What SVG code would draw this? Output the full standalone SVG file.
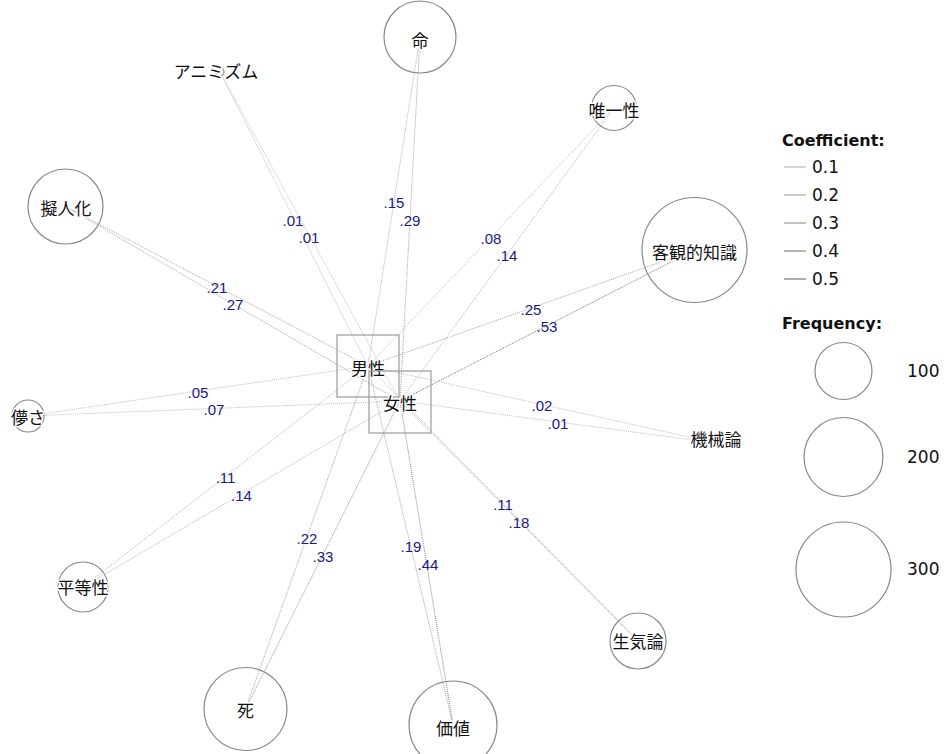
<svg xmlns="http://www.w3.org/2000/svg" width="948" height="754" viewBox="0 0 948 754">
  <style>
    .edge { fill: none; stroke-width: 1; stroke-dasharray: 1 1; }
    .c0 { stroke: #c0c0c0; }
    .c1 { stroke: #b4b4b4; }
    .c2 { stroke: #a4a4a4; }
    .c3 { stroke: #949494; }
    .c4 { stroke: #868686; }
    .c5 { stroke: #747474; }
    .node { fill: none; stroke: #888; stroke-width: 1.2; }
    .box { fill: none; stroke: #999; stroke-width: 1.2; }
    .lbl { font-family: "Noto Sans CJK JP", "Noto Sans", sans-serif; font-size: 17px; fill: #111; text-anchor: middle; dominant-baseline: central; stroke: #fff; stroke-width: 3px; paint-order: stroke; stroke-linejoin: round; }
    .coef { font-family: "Liberation Sans", Arial, sans-serif; font-size: 15px; fill: #1a1a86; text-anchor: middle; dominant-baseline: central; }
    .lgh { font-family: "DejaVu Sans", Verdana, sans-serif; font-size: 16px; font-weight: bold; fill: #111; }
    .lgt { font-family: "DejaVu Sans", Verdana, sans-serif; font-size: 17px; fill: #111; }
  </style>

  <!-- connectors: men (368,366) and women (400,401) to every concept -->
  <g id="edges">
    <line class="edge c0" x1="368" y1="366" x2="220" y2="72"/>
    <line class="edge c0" x1="400" y1="401" x2="220" y2="72"/>
    <line class="edge c1" x1="368" y1="366" x2="420" y2="37"/>
    <line class="edge c2" x1="400" y1="401" x2="420" y2="37"/>
    <line class="edge c0" x1="368" y1="366" x2="614" y2="108"/>
    <line class="edge c1" x1="400" y1="401" x2="614" y2="108"/>
    <line class="edge c2" x1="368" y1="366" x2="65.5" y2="206.5"/>
    <line class="edge c2" x1="400" y1="401" x2="65.5" y2="206.5"/>
    <line class="edge c2" x1="368" y1="366" x2="694.5" y2="250"/>
    <line class="edge c5" x1="400" y1="401" x2="694.5" y2="250"/>
    <line class="edge c0" x1="368" y1="366" x2="28" y2="416"/>
    <line class="edge c0" x1="400" y1="401" x2="28" y2="416"/>
    <line class="edge c0" x1="368" y1="366" x2="716" y2="443"/>
    <line class="edge c0" x1="400" y1="401" x2="716" y2="443"/>
    <line class="edge c1" x1="368" y1="366" x2="83" y2="587"/>
    <line class="edge c1" x1="400" y1="401" x2="83" y2="587"/>
    <line class="edge c1" x1="368" y1="366" x2="638" y2="641"/>
    <line class="edge c2" x1="400" y1="401" x2="638" y2="641"/>
    <line class="edge c2" x1="368" y1="366" x2="245.5" y2="709"/>
    <line class="edge c3" x1="400" y1="401" x2="245.5" y2="709"/>
    <line class="edge c2" x1="368" y1="366" x2="453" y2="725"/>
    <line class="edge c4" x1="400" y1="401" x2="453" y2="725"/>
  </g>

  <!-- coefficient labels at edge midpoints -->
  <g id="edge-labels">
    <text class="coef" x="293" y="220">.01</text>
    <text class="coef" x="309" y="237.5">.01</text>
    <text class="coef" x="394" y="202.5">.15</text>
    <text class="coef" x="410" y="220">.29</text>
    <text class="coef" x="491" y="238">.08</text>
    <text class="coef" x="507" y="255.5">.14</text>
    <text class="coef" x="217" y="287">.21</text>
    <text class="coef" x="233" y="304.5">.27</text>
    <text class="coef" x="531" y="309">.25</text>
    <text class="coef" x="547" y="326.5">.53</text>
    <text class="coef" x="198" y="392">.05</text>
    <text class="coef" x="214" y="409.5">.07</text>
    <text class="coef" x="542" y="405.5">.02</text>
    <text class="coef" x="558" y="423">.01</text>
    <text class="coef" x="225.5" y="477.5">.11</text>
    <text class="coef" x="241.5" y="495">.14</text>
    <text class="coef" x="503" y="504.5">.11</text>
    <text class="coef" x="519" y="522">.18</text>
    <text class="coef" x="307" y="538.5">.22</text>
    <text class="coef" x="323" y="556">.33</text>
    <text class="coef" x="411" y="546.5">.19</text>
    <text class="coef" x="428" y="564">.44</text>
  </g>

  <!-- concept nodes (circle area ~ frequency) -->
  <g id="n-animism"><circle class="node" cx="220" cy="72" r="4"/><text class="lbl" x="216" y="70">アニミズム</text></g>
  <g id="n-life"><circle class="node" cx="420" cy="37" r="36"/><text class="lbl" x="420" y="39">命</text></g>
  <g id="n-uniqueness"><circle class="node" cx="614" cy="108" r="22.5"/><text class="lbl" x="614" y="109">唯一性</text></g>
  <g id="n-personification"><circle class="node" cx="65.5" cy="206.5" r="37.5"/><text class="lbl" x="66" y="207">擬人化</text></g>
  <g id="n-objective"><circle class="node" cx="694.5" cy="250" r="52.5"/><text class="lbl" x="694.5" y="251">客観的知識</text></g>
  <g id="n-transience"><circle class="node" cx="28" cy="416" r="16"/><text class="lbl" x="28" y="416">儚さ</text></g>
  <g id="n-mechanism"><circle class="node" cx="716" cy="443" r="4"/><text class="lbl" x="716" y="438">機械論</text></g>
  <g id="n-equality"><circle class="node" cx="83" cy="587" r="25"/><text class="lbl" x="83" y="586">平等性</text></g>
  <g id="n-vitalism"><circle class="node" cx="638" cy="641" r="28"/><text class="lbl" x="638" y="640">生気論</text></g>
  <g id="n-death"><circle class="node" cx="245.5" cy="709" r="41.5"/><text class="lbl" x="245.5" y="709">死</text></g>
  <g id="n-value"><circle class="node" cx="453" cy="725" r="44"/><text class="lbl" x="453" y="727">価値</text></g>

  <!-- group nodes -->
  <g id="n-male"><rect class="box" x="337" y="335" width="62" height="62"/><text class="lbl" x="368" y="367">男性</text></g>
  <g id="n-female"><rect class="box" x="369" y="371" width="62" height="62"/><text class="lbl" x="400" y="402">女性</text></g>

  <!-- legend: coefficient -->
  <g id="legend-coefficient">
    <text class="lgh" x="782" y="146">Coefficient:</text>
    <line x1="784" y1="167" x2="806" y2="167" stroke="#bbbbbb" stroke-width="1.2"/>
    <line x1="784" y1="195" x2="806" y2="195" stroke="#aaaaaa" stroke-width="1.2"/>
    <line x1="784" y1="223" x2="806" y2="223" stroke="#999999" stroke-width="1.2"/>
    <line x1="784" y1="251" x2="806" y2="251" stroke="#888888" stroke-width="1.2"/>
    <line x1="784" y1="279" x2="806" y2="279" stroke="#777777" stroke-width="1.2"/>
    <text class="lgt" x="812" y="173">0.1</text>
    <text class="lgt" x="812" y="201">0.2</text>
    <text class="lgt" x="812" y="229">0.3</text>
    <text class="lgt" x="812" y="257">0.4</text>
    <text class="lgt" x="812" y="285">0.5</text>
  </g>

  <!-- legend: frequency -->
  <g id="legend-frequency">
    <text class="lgh" x="782" y="329">Frequency:</text>
    <circle class="node" cx="843.5" cy="371" r="28.5"/>
    <circle class="node" cx="843.5" cy="457" r="39.5"/>
    <circle class="node" cx="843.5" cy="569.5" r="47.5"/>
    <text class="lgt" x="907" y="377">100</text>
    <text class="lgt" x="907" y="463">200</text>
    <text class="lgt" x="907" y="575">300</text>
  </g>
</svg>
